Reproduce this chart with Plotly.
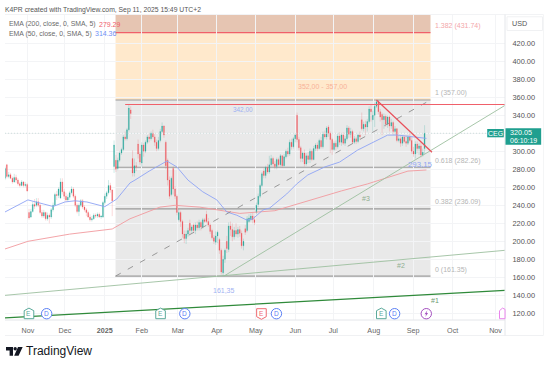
import plotly.graph_objects as go

# ---- data ----
candle_open = [
270,285,272,274,270,266,271,268,264,262,
266,262,263,232,227,233,241,240,244,240,
232,228,232,225,229,227,235,240,252,251,
248,266,255,250,246,249,254,258,250,240,
233,240,245,238,235,232,227,224,225,229,
228,230,227,227,243,250,254,262,257,283,
290,281,290,298,302,316,314,324,346,292,
276,284,308,297,287,307,300,310,316,314,
320,316,310,303,312,322,328,310,290,268,
252,281,258,250,224,232,222,208,203,208,
220,212,218,212,218,215,221,216,224,230,
222,218,212,204,199,206,202,190,165,180,
200,191,217,213,205,212,208,213,209,195,
214,212,222,224,228,224,232,241,250,262,
278,273,282,277,285,292,286,283,291,285,
295,284,294,300,297,310,305,314,340,313,
304,292,298,286,295,291,300,291,303,307,
303,312,305,319,316,327,320,313,302,309,
305,317,310,318,309,314,326,319,322,310,
314,311,318,335,325,330,327,333,347,335,
340,350,355,344,341,335,339,330,338,328,
332,322,325,312,314,309,316,311,309,316,
312,300,297,308,303,306,296,303,
]
candle_close = [
281,272,274,270,266,271,268,264,262,266,
262,263,256,226,233,241,239,244,240,232,
228,232,225,229,227,235,240,252,251,258,
266,255,250,246,249,254,258,250,240,233,
240,245,238,235,232,227,224,225,229,228,
230,227,228,243,250,254,262,257,245,307,
280,290,298,302,316,314,324,348,342,276,
284,283,297,288,307,300,310,316,314,320,
316,310,303,312,322,328,318,284,268,250,
270,258,250,232,232,222,208,203,208,212,
212,216,212,218,215,221,216,224,222,222,
218,211,204,200,206,210,190,166,180,190,
192,217,213,205,212,208,213,209,195,200,
210,225,226,228,224,221,240,250,262,275,
273,282,277,285,292,286,283,291,285,295,
284,294,300,297,310,305,314,318,313,304,
292,298,286,295,291,300,291,303,307,303,
312,305,319,316,326,320,313,302,309,305,
317,310,318,309,314,326,319,322,310,314,
311,318,316,325,330,327,333,347,344,340,
350,355,344,338,335,339,330,338,328,332,
322,325,312,314,309,316,311,309,316,312,
300,297,308,303,306,296,299,320,
]
candle_high = [
283,286,277,276,272,275,274,270,266,268,
267,266,265,236,236,244,247,248,248,242,
235,235,233,232,231,237,243,254,256,260,
270,270,258,254,252,256,261,260,252,242,
242,247,247,240,237,234,230,228,231,231,
232,232,229,245,253,256,268,265,258,312,
296,293,300,304,318,322,326,352,350,301,
292,288,313,300,310,309,312,318,320,322,
324,319,313,316,325,332,329,312,292,272,
272,283,261,252,236,234,224,212,212,215,
224,218,220,221,222,224,223,226,226,234,
226,220,214,207,211,212,204,192,184,192,
206,221,222,220,216,220,216,217,212,203,
218,228,230,231,232,228,243,253,264,277,
281,284,286,295,296,294,289,293,293,297,
296,297,302,304,313,314,316,320,343,316,
306,300,302,298,299,303,302,306,309,310,
314,316,322,323,328,329,322,315,311,312,
320,321,320,321,317,329,328,326,324,317,
316,320,322,343,333,334,336,350,352,345,
354,357,357,347,343,342,341,340,340,336,
334,328,326,318,317,318,318,318,318,321,
316,305,311,311,309,311,303,329,
]
candle_low = [
268,270,270,269,264,265,265,262,260,261,
260,260,255,224,226,232,236,238,238,230,
226,226,223,223,220,225,233,239,246,248,
247,252,247,244,244,246,252,248,238,231,
228,238,236,233,228,226,222,222,224,226,
226,226,225,226,241,247,252,254,228,276,
277,279,288,296,300,312,312,322,336,272,
272,278,292,285,283,294,298,308,310,312,
314,306,300,301,310,320,315,280,262,247,
250,252,247,229,222,216,204,198,197,205,
208,209,209,208,212,212,212,214,220,220,
216,208,202,197,196,198,186,163,161.35,176,
187,188,206,200,202,205,204,205,192,190,
207,210,220,222,220,218,230,238,248,260,
270,270,275,275,283,283,280,280,283,283,
282,283,292,294,295,302,303,310,310,301,
288,288,283,284,287,287,289,290,300,300,
302,303,303,314,313,316,298,296,300,301,
303,307,306,307,306,312,315,315,308,308,
308,309,313,323,322,318,322,331,333,322,
327,348,341,333,318,325,327,326,322,325,
318,318,310,310,305,306,309,305,307,310,
297,294,292,298,296,293.15,294,297,
]
assert len(candle_open) == len(candle_close) == len(candle_high) == len(candle_low) == 228

month_positions = [12.4, 32.4, 54, 74, 93.5, 114.6, 135.7, 157.1, 177.6, 199.5, 220.8, 242.2, 265.4]
month_labels = ["Nov", "Dec", "<b>2025</b>", "Feb", "Mar", "Apr", "May", "Jun", "Jul", "Aug", "Sep", "Oct", "Nov"]
price_ticks = [120, 140, 160, 180, 200, 220, 240, 260, 280, 300, 320, 340, 360, 380, 400, 420]

ema50_bar = [0, 12.4, 21, 26, 32.4, 37.8, 44.3, 54, 60.5, 66, 67.6, 70.3, 78, 87.6, 93, 99, 101.6, 107, 114.6,
             120, 125.4, 130.8, 134, 139.5, 143.2, 146, 152.4, 157.8, 163.8, 173, 181, 190.8, 200, 207, 212.4, 221.6, 228]
ema50_val = [232.6, 246, 241.4, 238.7, 243.7, 245, 243.7, 238.5, 247, 261, 264.8, 268, 278, 289.2, 282.6, 268, 263.7, 255, 246,
             232.6, 229, 223.6, 224.8, 234.8, 237, 241.5, 252.6, 263.7, 273.7, 282.6, 288, 301.4, 310.4, 318, 318, 316, 314.36]
ema200_bar = [0, 12.4, 35, 58, 67.6, 83.8, 92, 105.4, 127, 146, 182, 196, 218, 228]
ema200_val = [191.5, 200, 208, 213.7, 225, 238, 240, 238, 231, 234, 256, 263.7, 278, 279.29]

fib_left, fib_right = 59.8, 230.2
fib_levels = [161.35, 236.09, 282.26, 357.0, 431.74]
fib_names = ["0 (161.35)", "0.382 (236.09)", "0.618 (282.26)", "1 (357.00)", "1.382 (431.74)"]
line1_bar, line1_val = [0, 270.5], [115.0, 145.4]
line2_bar, line2_val = [0, 270.5], [140, 190]
line3_bar, line3_val = [118.4, 270.5], [161.35, 351]
red_h_bar, red_h_val = [65, 270.5], [352, 352]
red_d_bar, red_d_val = [201, 231], [357, 299]
diag_bar, diag_val = [fib_left, fib_right], [161.35, 357.0]
last_price = 320.05

# ---- layout geometry ----
W, H = 550, 368
L, R, T, B = 5, 505.5, 15, 320
X0, X1 = 0, 270.5
Y0, Y1 = 112.6, 451.4
FONT = "Liberation Sans"
def px(x): return (x - L) / (R - L)
def py(y): return (B - y) / (B - T)

fig = go.Figure()
fig.add_trace(go.Candlestick(
    x=list(range(len(candle_close))), open=candle_open, high=candle_high, low=candle_low, close=candle_close,
    whiskerwidth=0,
    increasing=dict(line=dict(color="rgba(38,166,154,0.45)", width=0.5), fillcolor="#26a69a"),
    decreasing=dict(line=dict(color="rgba(239,83,90,0.45)", width=0.5), fillcolor="#ef535a"),
    hoverinfo="skip", showlegend=False))

def line(xs, ys, color, width, dash="solid"):
    fig.add_trace(go.Scatter(x=xs, y=ys, mode="lines", hoverinfo="skip", showlegend=False,
                             line=dict(color=color, width=width, dash=dash)))

line(ema200_bar, ema200_val, "#f29a9e", 0.9)
line(ema50_bar, ema50_val, "#8ea4f5", 0.9)
line(diag_bar, diag_val, "#8f8f8f", 0.9, "6px,8px")
line(line1_bar, line1_val, "#2f8a3a", 1.2)
line(line2_bar, line2_val, "#9dbf9f", 0.9)
line(line3_bar, line3_val, "#9dbf9f", 0.9)
line(red_h_bar, red_h_val, "#f0606a", 1.1)
line(red_d_bar, red_d_val, "#e8505a", 1.2)
line([X0, X1], [last_price, last_price], "#c5d8d6", 0.8, "1px,2px")

shapes = []
def rect(x0, y0, x1, y1, fill, lw=0, lc=None, xref="x", yref="y", layer="below"):
    shapes.append(dict(type="rect", x0=x0, y0=y0, x1=x1, y1=y1, xref=xref, yref=yref, layer=layer,
                       fillcolor=fill, line=dict(width=lw, color=lc or fill)))
rect(fib_left, fib_levels[0], fib_right, fib_levels[3], "#e9e9e9")
rect(fib_left, fib_levels[3], fib_right, fib_levels[4], "#ffe9cc")
rect(fib_left, fib_levels[4], fib_right, Y1, "#e6c5b2")
for lv, col in zip(fib_levels, ["#9a9a9a", "#9a9a9a", "#9a9a9a", "#9a9a9a", "#f0606a"]):
    shapes.append(dict(type="line", x0=fib_left, x1=fib_right, y0=lv, y1=lv, xref="x", yref="y", layer="below",
                       line=dict(color=col, width=1.2)))

# frame
def pline(x0, y0, x1, y1, col="#eef0f2", w=1):
    shapes.append(dict(type="line", x0=px(x0), x1=px(x1), y0=py(y0), y1=py(y1), xref="paper", yref="paper",
                       layer="above", line=dict(color=col, width=w)))
pline(5, 14.5, 544, 14.5, "#f2f3f5")
pline(5, 320, 505.5, 320, "#e4e6ea")
pline(5, 335.5, 544, 335.5, "#f0f1f3")
pline(505.5, 14.5, 505.5, 335.5, "#e4e6ea")
pline(544, 14.5, 544, 335.5, "#f4f5f6")

def ppath(points, fill, lc=None, lw=1):
    d = "M " + " L ".join(f"{px(a):.5f} {py(b):.5f}" for a, b in points) + " Z"
    shapes.append(dict(type="path", path=d, xref="paper", yref="paper", layer="above",
                       fillcolor=fill, line=dict(color=lc or fill, width=lw if lc else 0)))
def pcircle(cx, cy, r, fill, lc, lw=1):
    shapes.append(dict(type="circle", x0=px(cx - r), x1=px(cx + r), y0=py(cy + r), y1=py(cy - r),
                       xref="paper", yref="paper", layer="above", fillcolor=fill, line=dict(color=lc, width=lw)))

annotations = []
def text(x, y, s, color, size, anchor="left", bold=False):
    annotations.append(dict(x=px(x), y=py(y), xref="paper", yref="paper", text=f"<b>{s}</b>" if bold else s,
                            showarrow=False, xanchor=anchor, yanchor="middle", align=anchor,
                            font=dict(family=FONT, size=size, color=color), borderpad=0, borderwidth=0))

# badges
BY = 313.7
def badge_e(x, col, up=True):
    if up:
        pts = [(x - 4.8, BY - 3), (x, BY - 5.6), (x + 4.8, BY - 3), (x + 4.8, BY + 5), (x - 4.8, BY + 5)]
    else:
        pts = [(x - 4.8, BY - 5), (x + 4.8, BY - 5), (x + 4.8, BY + 3), (x, BY + 5.6), (x - 4.8, BY + 3)]
    ppath(pts, "white", col, 1)
    text(x, BY, "E", col, 6.5, "center")
def badge_d(x):
    pcircle(x, BY, 5.2, "white", "#5b80f5")
    text(x, BY, "D", "#5b80f5", 6.5, "center")
for ex, dx, col, up in [(29, 46.7, "#5aa99a", True), (160.7, 185, "#5aa99a", True), (261.7, 276.7, "#ef6a72", False), (381.7, 395, "#5aa99a", True)]:
    badge_e(ex, col, up)
    badge_d(dx)
pcircle(426.7, BY, 5.2, "white", "#a44fc0")
ppath([(427.8, BY - 3.4), (425, BY + 0.6), (426.6, BY + 0.6), (425.7, BY + 3.4), (428.5, BY - 0.6), (426.9, BY - 0.6)], "#a44fc0")
ppath([(500, BY - 3), (503, BY - 5.6), (505.5, BY - 4.4), (505.5, BY + 5), (500, BY + 5)], "white", "#e985ec", 1)

# header and legend
text(5.5, 9.6, "K4PR created with TradingView.com, Sep 11, 2025 15:49 UTC+2", "#555555", 6.8)
text(9.5, 24.3, "EMA (200, close, 0, SMA, 5)", "#6a6a6a", 6.9)
text(99, 24.3, "279.29", "#f0606a", 7)
text(9.5, 33.5, "EMA (50, close, 0, SMA, 5)", "#6a6a6a", 6.9)
text(95.5, 33.5, "314.36", "#6f8ff5", 7)

# fib labels
for (lab, yy, col) in zip(fib_names, [270, 202.3, 161, 93.3, 26], ["#b5b5b5", "#b5b5b5", "#b5b5b5", "#b5b5b5", "#f3a6aa"]):
    text(435, yy, lab, col, 7)
text(323, 86.3, "352,00 - 357,00", "#f7b199", 7, "center")
text(243, 109, "342,00", "#9fb2f2", 6.4, "center")
text(420.5, 164, "293,15", "#8fa6f2", 7.8, "center")
text(224, 290.5, "161,35", "#9fb2f2", 7, "center")
text(366.7, 198.5, "#3", "#8fae90", 7, "center")
text(401.7, 265, "#2", "#8fae90", 7, "center")
text(435.7, 300.7, "#1", "#6d9a70", 7, "center")

# price axis furniture
shapes.append(dict(type="rect", x0=px(507.5), x1=px(543), y0=py(30.5), y1=py(16.8), xref="paper", yref="paper",
                   layer="above", fillcolor="white", line=dict(color="#f0f1f3", width=1)))
text(512.5, 23.6, "USD", "#555555", 7.2)
rect(px(487.7), py(137.3), px(504.3), py(129), "#1f9f8f", xref="paper", yref="paper", layer="above")
rect(px(506), py(144.8), px(541.7), py(128.3), "#1f9f8f", xref="paper", yref="paper", layer="above")
text(496, 133.2, "CEG", "white", 7, "center")
text(510.5, 132.8, "320.05", "white", 7.2)
text(510.5, 140.5, "06:10:19", "white", 7)

# wordmark
ppath([(6, 347), (13, 347), (13, 355.7), (9.6, 355.7), (9.6, 350.4), (6, 350.4)], "#131722")
pcircle(15.2, 348.8, 1.7, "#131722", "#131722", 0)
ppath([(18, 347), (22.7, 347), (18.6, 355.7), (14.2, 355.7)], "#131722")
text(26.5, 351.3, "TradingView", "#131722", 12, bold=False)

fig.update_layout(
    width=W, height=H, autosize=False,
    margin=dict(l=L, r=W - R, t=T, b=H - B, autoexpand=False),
    paper_bgcolor="white", plot_bgcolor="white",
    shapes=shapes, annotations=annotations, showlegend=False,
    font=dict(family=FONT, size=7.3, color="#555555"),
    xaxis=dict(range=[X0, X1], tickmode="array", tickvals=month_positions, ticktext=month_labels,
               showgrid=True, gridcolor="#f3f4f6", gridwidth=0.8, zeroline=False, rangeslider=dict(visible=False),
               ticks="outside", ticklen=3, tickcolor="white", showline=False,
               tickfont=dict(family=FONT, size=7.2, color="#666666")),
    yaxis=dict(range=[Y0, Y1], side="right", tickmode="array", tickvals=price_ticks,
               ticktext=["" if v == 320 else f"{v:.2f}" for v in price_ticks],
               showgrid=True, gridcolor="#f3f4f6", gridwidth=0.8, zeroline=False,
               ticks="outside", ticklen=5, tickcolor="white", showline=False,
               tickfont=dict(family=FONT, size=7.4, color="#555555")),
)
fig.write_html("out.html", config={"displayModeBar": False},
               post_script="document.body.style.margin='0';document.documentElement.style.overflow='hidden';")
